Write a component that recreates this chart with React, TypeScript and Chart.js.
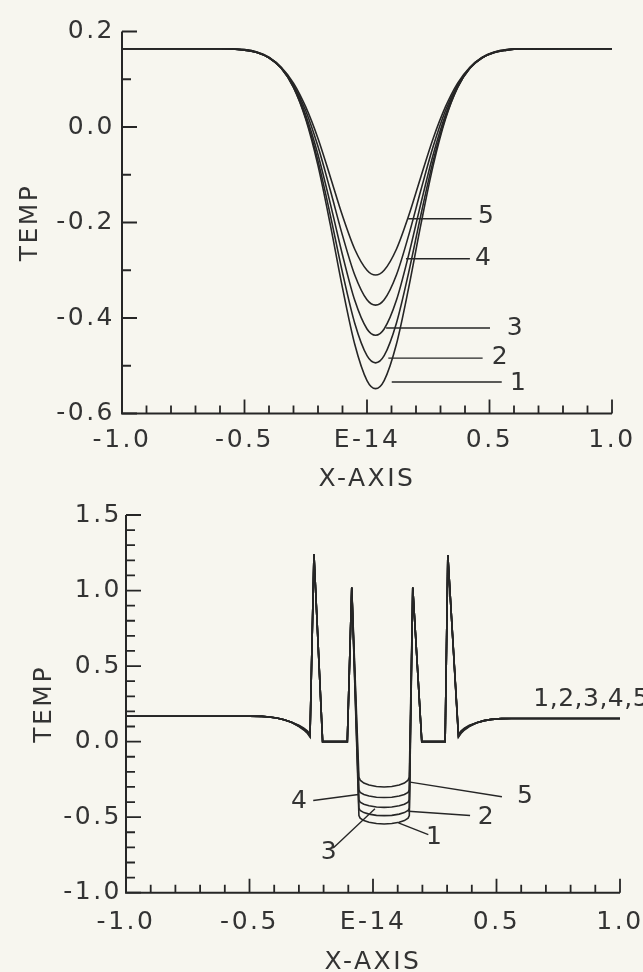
import React, { useEffect, useRef } from 'react';
import { Chart, registerables } from 'chart.js';

Chart.register(...registerables);

// ---------- data: upper panel ----------
const topX = [-1.0, -0.8, -0.6, -0.5, -0.45, -0.4, -0.35, -0.3, -0.25, -0.2, -0.15, -0.1, -0.05, 0.0, 0.035, 0.07, 0.12, 0.17, 0.22, 0.27, 0.32, 0.37, 0.42, 0.47, 0.52, 0.57, 0.6, 0.8, 1.0];
const topCurve1 = [0.164, 0.164, 0.164, 0.162, 0.157, 0.146, 0.124, 0.083, 0.016, -0.081, -0.204, -0.337, -0.455, -0.531, -0.548, -0.531, -0.455, -0.337, -0.204, -0.081, 0.016, 0.083, 0.124, 0.146, 0.157, 0.162, 0.163, 0.164, 0.164];
const topCurve2 = [0.164, 0.164, 0.164, 0.162, 0.157, 0.145, 0.123, 0.083, 0.019, -0.071, -0.184, -0.305, -0.411, -0.479, -0.494, -0.479, -0.411, -0.305, -0.184, -0.071, 0.019, 0.083, 0.123, 0.145, 0.157, 0.162, 0.163, 0.164, 0.164];
const topCurve3 = [0.164, 0.164, 0.164, 0.161, 0.156, 0.145, 0.123, 0.085, 0.025, -0.058, -0.160, -0.268, -0.363, -0.423, -0.436, -0.423, -0.363, -0.268, -0.160, -0.058, 0.025, 0.085, 0.123, 0.145, 0.156, 0.161, 0.163, 0.164, 0.164];
const topCurve4 = [0.164, 0.164, 0.164, 0.161, 0.156, 0.145, 0.124, 0.088, 0.034, -0.041, -0.132, -0.227, -0.310, -0.362, -0.373, -0.362, -0.310, -0.227, -0.132, -0.041, 0.034, 0.088, 0.124, 0.145, 0.156, 0.161, 0.163, 0.164, 0.164];
const topCurve5 = [0.164, 0.164, 0.164, 0.161, 0.156, 0.145, 0.125, 0.092, 0.042, -0.024, -0.104, -0.186, -0.256, -0.300, -0.310, -0.300, -0.256, -0.186, -0.104, -0.024, 0.042, 0.092, 0.125, 0.145, 0.156, 0.161, 0.163, 0.164, 0.164];

// ---------- data: lower panel ----------
const bottomX = [-1.0, -0.8, -0.6, -0.5, -0.45, -0.42, -0.39, -0.36, -0.33, -0.30, -0.28, -0.265, -0.255, -0.239, -0.204, -0.104, -0.086,
  -0.057, -0.052, -0.037, -0.016, 0.014, 0.045, 0.076, 0.106, 0.127, 0.142, 0.147,
  0.161, 0.1975, 0.292, 0.303, 0.346, 0.356, 0.37, 0.39, 0.42, 0.45, 0.48, 0.52, 0.56, 0.6, 0.8, 1.0];
const bottomCurve1 = [0.168, 0.168, 0.168, 0.168, 0.167, 0.163, 0.156, 0.145, 0.128, 0.100, 0.077, 0.054, 0.030, 1.24, 0, 0, 1.02,
  -0.490, -0.507, -0.523, -0.534, -0.542, -0.545, -0.542, -0.534, -0.523, -0.507, -0.490,
  1.02, 0, 0, 1.235, 0.030, 0.054, 0.077, 0.100, 0.125, 0.139, 0.147, 0.152, 0.153, 0.153, 0.153, 0.153];
const bottomCurve2 = [0.168, 0.168, 0.168, 0.168, 0.167, 0.163, 0.156, 0.145, 0.128, 0.102, 0.080, 0.058, 0.034, 1.24, 0, 0, 1.02,
  -0.440, -0.456, -0.470, -0.480, -0.488, -0.490, -0.488, -0.480, -0.470, -0.456, -0.440,
  1.02, 0, 0, 1.235, 0.034, 0.058, 0.080, 0.102, 0.125, 0.139, 0.147, 0.152, 0.153, 0.153, 0.153, 0.153];
const bottomCurve3 = [0.168, 0.168, 0.168, 0.168, 0.167, 0.163, 0.156, 0.145, 0.128, 0.104, 0.083, 0.062, 0.038, 1.24, 0, 0, 1.02,
  -0.385, -0.401, -0.415, -0.425, -0.433, -0.435, -0.433, -0.425, -0.415, -0.401, -0.385,
  1.02, 0, 0, 1.235, 0.038, 0.062, 0.083, 0.104, 0.125, 0.139, 0.147, 0.152, 0.153, 0.153, 0.153, 0.153];
const bottomCurve4 = [0.168, 0.168, 0.168, 0.168, 0.167, 0.163, 0.156, 0.145, 0.128, 0.106, 0.086, 0.066, 0.042, 1.24, 0, 0, 1.02,
  -0.320, -0.336, -0.350, -0.360, -0.368, -0.370, -0.368, -0.360, -0.350, -0.336, -0.320,
  1.02, 0, 0, 1.235, 0.042, 0.066, 0.086, 0.106, 0.125, 0.139, 0.147, 0.152, 0.153, 0.153, 0.153, 0.153];
const bottomCurve5 = [0.168, 0.168, 0.168, 0.168, 0.167, 0.163, 0.156, 0.145, 0.128, 0.108, 0.089, 0.070, 0.046, 1.24, 0, 0, 1.02,
  -0.235, -0.255, -0.274, -0.287, -0.297, -0.300, -0.297, -0.287, -0.274, -0.255, -0.235,
  1.02, 0, 0, 1.235, 0.046, 0.070, 0.089, 0.108, 0.125, 0.139, 0.147, 0.152, 0.153, 0.153, 0.153, 0.153];

// ---------- ticks ----------
const xTickValues = [-1.0, -0.5, 0.0, 0.5, 1.0];
const xTickLabels = ['-1.0', '-0.5', 'E-14', '0.5', '1.0'];
const topYTickValues = [0.2, 0.0, -0.2, -0.4, -0.6];
const topYTickLabels = ['0.2', '0.0', '-0.2', '-0.4', '-0.6'];
const bottomYTickValues = [1.5, 1.0, 0.5, 0.0, -0.5, -1.0];
const bottomYTickLabels = ['1.5', '1.0', '0.5', '0.0', '-0.5', '-1.0'];

// ---------- curve labels (data units) ----------
const topLabelText = ['5', '4', '3', '2', '1'];
const topLabelX = [0.453, 0.441, 0.570, 0.509, 0.584];
const topLabelY = [-0.187, -0.276, -0.421, -0.483, -0.537];
const topLeaderX1 = [0.168, 0.159, 0.078, 0.087, 0.101];
const topLeaderY1 = [-0.192, -0.276, -0.421, -0.484, -0.534];
const topLeaderX2 = [0.427, 0.420, 0.502, 0.472, 0.550];
const topLeaderY2 = [-0.192, -0.276, -0.421, -0.484, -0.534];

const bottomLabelText = ['4', '5', '2', '1', '3', '1,2,3,4,5'];
const bottomLabelX = [-0.295, 0.62, 0.461, 0.252, -0.174, 0.649];
const bottomLabelY = [-0.394, -0.361, -0.505, -0.637, -0.735, 0.281];
const bottomLabelAlign = ['center', 'center', 'center', 'center', 'center', 'left'];
const bottomLabelSpacing = ['2.5px', '2.5px', '2.5px', '2.5px', '2.5px', '0.5px'];
const bottomLeaderX1 = [-0.242, 0.150, 0.143, 0.103, -0.161];
const bottomLeaderY1 = [-0.390, -0.268, -0.461, -0.538, -0.704];
const bottomLeaderX2 = [-0.059, 0.522, 0.393, 0.224, 0.008];
const bottomLeaderY2 = [-0.350, -0.365, -0.489, -0.616, -0.445];

const INK = '#262626';
const TEXT = '#333333';
const PAPER = '#f7f6ef';
const FONT = '"DejaVu Sans", "Liberation Sans", sans-serif';
const FONT_SIZE = 25;
const SPACING = '2.5px';

const sciPlugin = {
  id: 'sci',
  beforeUpdate(chart: any) {
    chart.ctx.letterSpacing = SPACING;
  },
  beforeDraw(chart: any) {
    chart.ctx.letterSpacing = SPACING;
  },
  afterDatasetsDraw(chart: any, _args: any, opts: any) {
    const { ctx, scales } = chart;
    const xs = scales.x;
    const ys = scales.y;
    ctx.save();
    ctx.strokeStyle = INK;
    ctx.lineWidth = 1.4;
    const L = opts.leaders;
    for (let i = 0; i < L.x1.length; i++) {
      ctx.beginPath();
      ctx.moveTo(xs.getPixelForValue(L.x1[i]), ys.getPixelForValue(L.y1[i]));
      ctx.lineTo(xs.getPixelForValue(L.x2[i]), ys.getPixelForValue(L.y2[i]));
      ctx.stroke();
    }
    ctx.fillStyle = TEXT;
    ctx.font = `${FONT_SIZE}px ${FONT}`;
    ctx.textBaseline = 'middle';
    const T = opts.texts;
    for (let i = 0; i < T.text.length; i++) {
      ctx.letterSpacing = T.spacing ? T.spacing[i] : SPACING;
      ctx.textAlign = T.align ? T.align[i] : 'left';
      ctx.fillText(T.text[i], xs.getPixelForValue(T.x[i]), ys.getPixelForValue(T.y[i]));
    }
    ctx.restore();
    ctx.letterSpacing = SPACING;
  },
  afterDraw(chart: any, _args: any, opts: any) {
    const { ctx, chartArea: a, scales } = chart;
    const xs = scales.x;
    const ys = scales.y;
    ctx.save();
    ctx.strokeStyle = INK;
    ctx.lineWidth = 2;
    ctx.beginPath();
    ctx.moveTo(a.left, a.top);
    ctx.lineTo(a.left, a.bottom);
    ctx.lineTo(a.right, a.bottom);
    ctx.stroke();
    ctx.lineWidth = 1.8;
    ctx.beginPath();
    const isMajor = (list: number[], v: number) => list.some((m) => Math.abs(m - v) < 1e-6);
    const ny = Math.round((ys.max - ys.min) / 0.1);
    for (let k = 0; k <= ny; k++) {
      const v = ys.min + k * 0.1;
      const py = ys.getPixelForValue(v);
      ctx.moveTo(a.left, py);
      ctx.lineTo(a.left + (isMajor(opts.yMajor, v) ? 15 : 9), py);
    }
    const nx = Math.round((xs.max - xs.min) / 0.1);
    for (let k = 1; k <= nx; k++) {
      const v = xs.min + k * 0.1;
      const px = xs.getPixelForValue(v);
      ctx.moveTo(px, a.bottom);
      ctx.lineTo(px, a.bottom - (isMajor(xTickValues, v) ? 14 : 8));
    }
    ctx.stroke();
    ctx.restore();
  },
};

function makeDatasets(xs: number[], curves: number[][], smooth: boolean) {
  return curves.map((c, i) => ({
    label: String(i + 1),
    data: xs.map((x, j) => ({ x, y: c[j] })),
    borderColor: INK,
    borderWidth: 1.6,
    pointRadius: 0,
    fill: false,
    tension: 0,
    cubicInterpolationMode: smooth ? 'monotone' : 'default',
  }));
}

function makeConfig(p: any) {
  const tickFont = { family: FONT, size: FONT_SIZE };
  const titleFont = { family: FONT, size: FONT_SIZE, lineHeight: 1 };
  return {
    type: 'line',
    data: { datasets: makeDatasets(p.xs, p.curves, p.smooth) },
    plugins: [sciPlugin],
    options: {
      responsive: false,
      maintainAspectRatio: false,
      animation: false,
      events: [],
      layout: { padding: p.padding },
      plugins: {
        legend: { display: false },
        tooltip: { enabled: false },
        sci: { yMajor: p.yTicks, leaders: p.leaders, texts: p.texts },
      },
      scales: {
        x: {
          type: 'linear',
          min: -1,
          max: 1,
          grid: { display: false, drawTicks: false },
          border: { display: false },
          afterBuildTicks: (s: any) => { s.ticks = xTickValues.map((v) => ({ value: v })); },
          afterFit: (s: any) => { s.height = p.xHeight; s.paddingLeft = 0; s.paddingRight = 0; },
          ticks: {
            autoSkip: false,
            maxRotation: 0,
            padding: p.xPad,
            color: TEXT,
            font: tickFont,
            callback: (v: number) => {
              const i = xTickValues.findIndex((t) => Math.abs(t - v) < 1e-6);
              return i >= 0 ? xTickLabels[i] : '';
            },
          },
          title: { display: true, text: 'X-AXIS', color: TEXT, font: titleFont, padding: { top: 0, bottom: p.xTitlePad } },
        },
        y: {
          type: 'linear',
          min: p.yMin,
          max: p.yMax,
          grid: { display: false, drawTicks: false },
          border: { display: false },
          afterBuildTicks: (s: any) => { s.ticks = p.yTicks.map((v: number) => ({ value: v })); },
          afterFit: (s: any) => { s.width = p.yWidth; s.paddingTop = 0; s.paddingBottom = 0; },
          ticks: {
            autoSkip: false,
            padding: p.yPad,
            color: TEXT,
            font: tickFont,
            callback: (v: number) => {
              const i = p.yTicks.findIndex((t: number) => Math.abs(t - v) < 1e-6);
              return i >= 0 ? p.yLabels[i] : '';
            },
          },
          title: { display: true, text: 'TEMP', color: TEXT, font: titleFont, padding: { top: p.yTitlePad, bottom: 0 } },
        },
      },
    },
  };
}

export default function App() {
  const topRef = useRef<HTMLCanvasElement>(null);
  const bottomRef = useRef<HTMLCanvasElement>(null);

  useEffect(() => {
    const top = new Chart(topRef.current as any, makeConfig({
      xs: topX,
      curves: [topCurve1, topCurve2, topCurve3, topCurve4, topCurve5],
      smooth: true,
      padding: { left: 16, right: 31, top: 31.5, bottom: 0 },
      xHeight: 76.5,
      yWidth: 106,
      xPad: 12,
      yPad: 7,
      xTitlePad: -2,
      yTitlePad: 2,
      yMin: -0.6,
      yMax: 0.2,
      yTicks: topYTickValues,
      yLabels: topYTickLabels,
      leaders: { x1: topLeaderX1, y1: topLeaderY1, x2: topLeaderX2, y2: topLeaderY2 },
      texts: { text: topLabelText, x: topLabelX, y: topLabelY },
    }) as any);
    const bottom = new Chart(bottomRef.current as any, makeConfig({
      xs: bottomX,
      curves: [bottomCurve1, bottomCurve2, bottomCurve3, bottomCurve4, bottomCurve5],
      smooth: false,
      padding: { left: 30, right: 23, top: 25, bottom: 0 },
      xHeight: 79.3,
      yWidth: 96,
      xPad: 15,
      yPad: 4,
      xTitlePad: -3,
      yTitlePad: 2,
      yMin: -1.0,
      yMax: 1.5,
      yTicks: bottomYTickValues,
      yLabels: bottomYTickLabels,
      leaders: { x1: bottomLeaderX1, y1: bottomLeaderY1, x2: bottomLeaderX2, y2: bottomLeaderY2 },
      texts: { text: bottomLabelText, x: bottomLabelX, y: bottomLabelY, align: bottomLabelAlign, spacing: bottomLabelSpacing },
    }) as any);
    return () => {
      top.destroy();
      bottom.destroy();
    };
  }, []);

  return (
    <div style={{ position: 'fixed', left: 0, top: 0, width: 643, height: 972, background: PAPER, overflow: 'hidden' }}>
      <canvas ref={topRef} width={643} height={490} style={{ position: 'absolute', left: 0, top: 0, width: 643, height: 490 }} />
      <canvas ref={bottomRef} width={643} height={482} style={{ position: 'absolute', left: 0, top: 490, width: 643, height: 482 }} />
    </div>
  );
}
